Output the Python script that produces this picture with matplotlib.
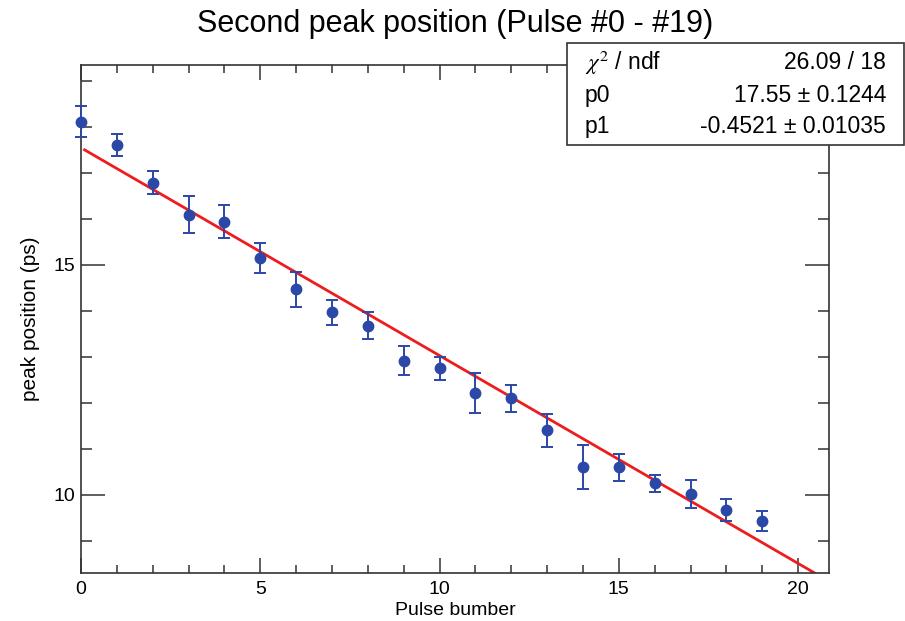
import matplotlib
matplotlib.use("Agg")
import matplotlib.pyplot as plt
import numpy as np
from matplotlib.patches import Rectangle
from matplotlib.ticker import MultipleLocator

plt.rcParams['font.family'] = ['Liberation Sans', 'DejaVu Sans']
plt.rcParams['mathtext.fontset'] = 'stix'

# data
pulse = [0, 1, 2, 3, 4, 5, 6, 7, 8, 9, 10, 11, 12, 13, 14, 15, 16, 17, 18, 19]
peak = [18.12, 17.61, 16.79, 16.09, 15.94, 15.15, 14.47, 13.97, 13.68, 12.92,
        12.75, 12.21, 12.10, 11.40, 10.60, 10.60, 10.25, 10.02, 9.67, 9.43]
peak_err = [0.33, 0.23, 0.25, 0.40, 0.36, 0.32, 0.38, 0.27, 0.30, 0.32,
            0.25, 0.43, 0.30, 0.36, 0.48, 0.29, 0.19, 0.30, 0.24, 0.22]

# fit result (pol1)
p0 = 17.55
p1 = -0.4521
stats_rows = [(r'$\chi^{2}$ / ndf', '26.09 / 18'),
              ('p0', '17.55 ± 0.1244'),
              ('p1', '-0.4521 ± 0.01035')]

xmin, xmax = 0, 20.86
ymin, ymax = 8.30, 19.35

fig = plt.figure(figsize=(9.05, 6.21), dpi=100)
ax = fig.add_axes([0.0895, 0.0773, 0.8265, 0.818])

blue = '#2b48a6'
ax.errorbar(pulse, peak, yerr=peak_err, fmt='o', color=blue, ecolor=blue,
            markersize=7.5, elinewidth=1.4, capsize=4, capthick=1.4, zorder=3,
            clip_on=False)

xfit = np.linspace(0.1, (ymin - p0) / p1, 200)
ax.plot(xfit, p0 + p1 * xfit, color='#ee1c1c', lw=2.0, zorder=2)

ax.set_xlim(xmin, xmax)
ax.set_ylim(ymin, ymax)

ax.xaxis.set_major_locator(MultipleLocator(5))
ax.xaxis.set_minor_locator(MultipleLocator(1))
ax.yaxis.set_major_locator(MultipleLocator(5))
ax.yaxis.set_minor_locator(MultipleLocator(1))

ax.tick_params(which='both', direction='in', top=True, right=True,
               color='#333333', width=1.1)
ax.tick_params(axis='x', which='major', length=11, labelsize=14, pad=6)
ax.tick_params(axis='x', which='minor', length=6)
ax.tick_params(axis='y', which='major', length=17, labelsize=14, pad=4)
ax.tick_params(axis='y', which='minor', length=8)
for s in ax.spines.values():
    s.set_color('#333333')
    s.set_linewidth(1.2)

ax.set_xlabel('Pulse bumber', fontsize=14, labelpad=3)
ax.set_ylabel('peak position (ps)', fontsize=15, labelpad=10)

fig.text(0.503, 0.962, 'Second peak position (Pulse #0 - #19)',
         ha='center', va='center', fontsize=22)

# stats box
bx0, by0 = 0.6265, 0.7665
fig.add_artist(Rectangle((bx0, by0), 1.0 - bx0 - 0.001, 0.9312 - by0,
                         transform=fig.transFigure, facecolor='white',
                         edgecolor='#333333', lw=1.2, zorder=5))
row_y = [0.899, 0.847, 0.796]
for (lab, val), yy in zip(stats_rows, row_y):
    fig.text(0.646, yy, lab, ha='left', va='center', fontsize=16.5, zorder=6)
    fig.text(0.979, yy, val, ha='right', va='center', fontsize=16.5, zorder=6)

fig.savefig('out.png', dpi=100)
